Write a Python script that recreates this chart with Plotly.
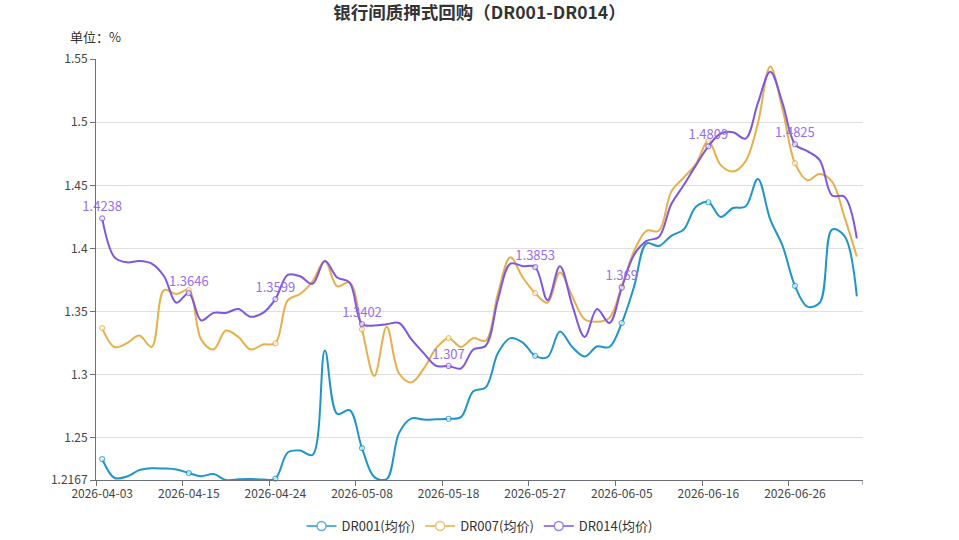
import plotly.graph_objects as go

dates = ["2026-04-03","2026-04-07","2026-04-08","2026-04-09","2026-04-10","2026-04-13","2026-04-14",
         "2026-04-15","2026-04-16","2026-04-17","2026-04-20","2026-04-21","2026-04-22","2026-04-23",
         "2026-04-24","2026-04-27","2026-04-28","2026-04-29","2026-04-30","2026-05-06","2026-05-07",
         "2026-05-08","2026-05-09","2026-05-11","2026-05-12","2026-05-13","2026-05-14","2026-05-15",
         "2026-05-18","2026-05-19","2026-05-20","2026-05-21","2026-05-22","2026-05-25","2026-05-26",
         "2026-05-27","2026-05-28","2026-05-29","2026-06-01","2026-06-02","2026-06-03","2026-06-04",
         "2026-06-05","2026-06-08","2026-06-09","2026-06-10","2026-06-11","2026-06-12","2026-06-15",
         "2026-06-16","2026-06-17","2026-06-18","2026-06-22","2026-06-23","2026-06-24","2026-06-25",
         "2026-06-26","2026-06-29","2026-06-30","2026-07-01","2026-07-02","2026-07-03"]

dr001 = [1.2333,1.2183,1.2195,1.2245,1.2260,1.2258,1.2250,
         1.2222,1.2197,1.2214,1.2167,1.2172,1.2175,1.2170,
         1.2178,1.2385,1.2400,1.2365,1.3192,1.2690,1.2720,
         1.2420,1.2190,1.2175,1.2540,1.2655,1.2645,1.2648,
         1.2652,1.2665,1.2870,1.2900,1.3175,1.3290,1.3255,
         1.3150,1.3140,1.3343,1.3220,1.3145,1.3224,1.3220,
         1.3410,1.3700,1.4040,1.4020,1.4100,1.4150,1.4330,
         1.4366,1.4250,1.4320,1.4332,1.4550,1.4230,1.4020,
         1.3704,1.3540,1.3570,1.4150,1.4100,1.3620]

dr007 = [1.3370,1.3220,1.3250,1.3310,1.3220,1.3670,1.3640,
         1.3670,1.3280,1.3200,1.3350,1.3300,1.3200,1.3240,
         1.3250,1.3590,1.3640,1.3740,1.3900,1.3700,1.3730,
         1.3360,1.2990,1.3380,1.3010,1.2940,1.3050,1.3210,
         1.3290,1.3220,1.3290,1.3270,1.3650,1.3930,1.3770,
         1.3646,1.3570,1.3810,1.3620,1.3440,1.3420,1.3450,
         1.3700,1.3980,1.4140,1.4140,1.4450,1.4560,1.4670,
         1.4850,1.4660,1.4610,1.4690,1.4990,1.5440,1.5100,
         1.4675,1.4540,1.4590,1.4530,1.4250,1.3936]

dr014 = [1.4238,1.3930,1.3890,1.3900,1.3880,1.3780,1.3570,
         1.3646,1.3430,1.3490,1.3490,1.3520,1.3460,1.3490,
         1.3599,1.3790,1.3780,1.3720,1.3900,1.3770,1.3730,
         1.3402,1.3390,1.3400,1.3410,1.3280,1.3170,1.3070,
         1.3070,1.3050,1.3200,1.3230,1.3600,1.3880,1.3860,
         1.3853,1.3590,1.3860,1.3550,1.3300,1.3520,1.3410,
         1.3690,1.3950,1.4060,1.4090,1.4350,1.4500,1.4660,
         1.4809,1.4910,1.4920,1.4870,1.5150,1.5400,1.5150,
         1.4825,1.4770,1.4700,1.4420,1.4410,1.4080]

series_names = ["DR001(均价)", "DR007(均价)", "DR014(均价)"]
colors = ["#1f95c8", "#e6b04c", "#7e57e0"]
legend_colors = ["#5ab0d8", "#ecc276", "#9c7ee8"]
label_color = "#9470ee"

y_ticks = [1.2167, 1.25, 1.3, 1.35, 1.4, 1.45, 1.5, 1.55]
y_ticktext = ["1.2167", "1.25", "1.3", "1.35", "1.4", "1.45", "1.5", "1.55"]

FONT = "Microsoft YaHei, Noto Sans CJK SC, sans-serif"
STEP = 7
n = len(dates)
msize = [5 if i % STEP == 0 else 0 for i in range(n)]

fig = go.Figure()
for name, vals, col in zip(series_names, [dr001, dr007, dr014], colors):
    is_last = name == series_names[2]
    texts = [(f"{v:g}" if (i % STEP == 0) else "") for i, v in enumerate(vals)] if is_last else None
    fig.add_trace(go.Scatter(
        x=dates, y=vals, name=name, showlegend=False, legendgroup=name,
        mode="lines+markers+text" if is_last else "lines+markers",
        line=dict(color=col, width=2, shape="spline", smoothing=1),
        marker=dict(size=msize, color="white", line=dict(color=col, width=1.2), symbol="circle"),
        text=texts, textposition="top center",
        textfont=dict(color=label_color, size=13, family=FONT),
        cliponaxis=False,
    ))

# legend entries (line with hollow circle)
for name, col in zip(series_names, legend_colors):
    fig.add_trace(go.Scatter(
        x=[None], y=[None], name=name, legendgroup=name, mode="lines+markers",
        line=dict(color=col, width=2),
        marker=dict(size=9, color="white", line=dict(color=col, width=1.5)),
    ))

L, R, T, B = 96, 96, 59, 60
W, H = 959, 540
pw = W - L - R
ph = H - T - B

fig.update_layout(
    width=W, height=H,
    margin=dict(l=L, r=R, t=T, b=B, autoexpand=False),
    paper_bgcolor="white", plot_bgcolor="white",
    font=dict(family=FONT, size=12, color="#444"),
    title=dict(text="<b>银行间质押式回购（DR001-DR014）</b>", x=0.5, xanchor="center",
               y=1 - 13 / H, yanchor="middle", font=dict(size=17.5, color="#333", family=FONT)),
    showlegend=True,
    legend=dict(orientation="h", x=0.5, xanchor="center", y=(480 - 526) / ph, yanchor="middle",
                font=dict(size=13, color="#333", family=FONT), itemwidth=30),
    xaxis=dict(type="category", range=[-0.5, n - 0.5], tickmode="linear", tick0=0, dtick=STEP,
               tickson="boundaries", ticks="outside", ticklen=5, tickcolor="#6E7079", tickangle=0,
               ticklabelstandoff=3,
               showline=True, linecolor="#6E7079", linewidth=1, showgrid=False,
               tickfont=dict(size=12, color="#444"), fixedrange=True),
    yaxis=dict(range=[y_ticks[0], y_ticks[-1]], tickmode="array", tickvals=y_ticks, ticktext=y_ticktext,
               ticks="outside", ticklen=5, tickcolor="#6E7079", showline=True, linecolor="#6E7079",
               linewidth=1, showgrid=True, gridcolor="#e0e0e0", gridwidth=1, zeroline=False,
               tickfont=dict(size=12, color="#444")),
    annotations=[dict(text="单位：%", xref="paper", yref="paper", x=(68 - L) / pw, xanchor="left",
                      y=1 + (T - 36) / ph, yanchor="middle", showarrow=False,
                      font=dict(size=13, color="#333", family=FONT))],
    shapes=[dict(type="line", xref="x", yref="paper", x0=n - 0.5, x1=n - 0.5, y0=0, y1=-5 / ph,
                 line=dict(color="#6E7079", width=1))],
)

fig.write_html("out.html")
